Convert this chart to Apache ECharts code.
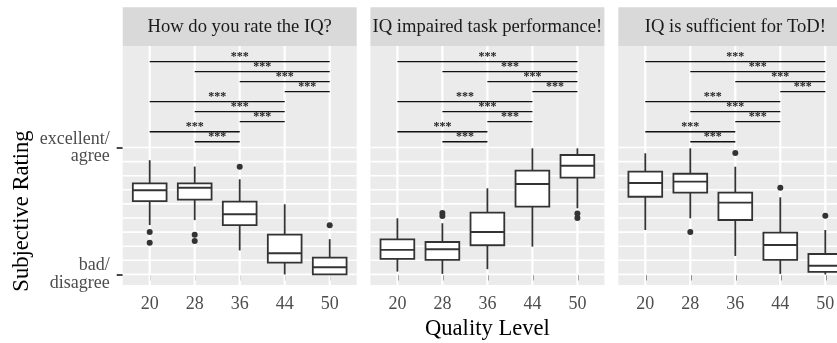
<!DOCTYPE html>
<html>
<head>
<meta charset="utf-8">
<script src="https://cdn.jsdelivr.net/npm/echarts@6/dist/echarts.min.js"></script>
<style>
html, body { margin: 0; padding: 0; background: #fff; }
#chart { width: 837px; height: 343px; }
</style>
</head>
<body>
<div id="chart"></div>
<script>
// facet titles and axis labels
const panelTitles = ['How do you rate the IQ?', 'IQ impaired task performance!', 'IQ is sufficient for ToD!'];
const qualityLevels = ['20', '28', '36', '44', '50'];
const ratingLabels = ['bad/\ndisagree', 'excellent/\nagree'];
const ratingSteps = [0, 1, 2, 3, 4, 5, 6, 7, 8, 9];

// box stats per quality level: [min, q1, median, q3, max]
const rateIQ = [
  [3.5, 5.2, 5.97, 6.46, 8.1],
  [3.85, 5.3, 6.15, 6.46, 7.65],
  [1.7, 3.5, 4.27, 5.16, 6.75],
  [0, 0.84, 1.5, 2.82, 4.97],
  [0, 0, 0.51, 1.19, 2.5]
];
const rateIQOut = [[1, 3.0], [1, 2.25], [2, 2.82], [2, 2.37], [3, 7.64], [5, 3.49]];

const impaired = [
  [0.2, 1.1, 1.74, 2.49, 3.98],
  [0.04, 1.03, 1.79, 2.3, 3.63],
  [0.37, 2.07, 3.01, 4.38, 6.11],
  [1.97, 4.81, 6.41, 7.36, 8.94],
  [4.69, 6.86, 7.71, 8.47, 8.94]
];
const impairedOut = [[2, 4.36], [2, 4.15], [5, 4.32], [5, 4.0]];

const sufficient = [
  [3.15, 5.51, 6.48, 7.29, 8.59],
  [3.98, 5.8, 6.58, 7.14, 8.94],
  [1.31, 3.86, 5.09, 5.8, 7.64],
  [0.04, 1.03, 2.09, 2.96, 5.47],
  [0, 0.18, 0.62, 1.45, 3.15]
];
const sufficientOut = [[2, 3.01], [3, 8.61], [4, 6.15], [5, 4.17]];

// significance brackets [from level, to level, height], same in every panel
const brackets = [[2, 3, 9.41], [1, 3, 10.12], [3, 4, 10.83], [2, 4, 11.54], [1, 4, 12.25],
                  [4, 5, 12.96], [3, 5, 13.67], [2, 5, 14.38], [1, 5, 15.09]];
const sigLabel = '***';

const panels = [rateIQ, impaired, sufficient];
const outliers = [rateIQOut, impairedOut, sufficientOut];

const font = 'Liberation Serif';
const lefts = [122.7, 370.4, 618.3];
const panelTop = 46, panelW = 234, panelH = 239;

const grid = lefts.map(l => ({
  left: l, top: panelTop, width: panelW, height: panelH,
  show: true, backgroundColor: '#EBEBEB', borderWidth: 0,
  outerBoundsMode: 'none'
}));

const xAxis = lefts.map((l, i) => ({
  type: 'value', gridIndex: i, min: 0.4, max: 5.6,
  axisLine: { show: false },
  splitLine: { show: false },
  axisTick: { show: true, length: 6, customValues: [1, 2, 3, 4, 5], lineStyle: { color: '#333', width: 1.8 } },
  axisLabel: {
    customValues: [1, 2, 3, 4, 5],
    formatter: v => qualityLevels[Math.round(v) - 1],
    color: '#4D4D4D', fontFamily: font, fontSize: 18, margin: 10
  },
  name: i === 1 ? 'Quality Level' : '',
  nameLocation: 'middle', nameGap: 29,
  nameTextStyle: { color: '#000', fontFamily: font, fontSize: 22.6 }
}));

const yAxis = lefts.map((l, i) => ({
  type: 'value', gridIndex: i, min: -0.75, max: 16.2,
  axisLine: { show: false },
  splitLine: { show: false },
  axisTick: { show: i === 0, length: 6, customValues: [0, 9], lineStyle: { color: '#333', width: 1.8 } },
  axisLabel: {
    show: i === 0, customValues: [0, 9],
    formatter: v => v < 1 ? ratingLabels[0] : ratingLabels[1],
    color: '#4D4D4D', fontFamily: font, fontSize: 18, lineHeight: 17.5, margin: 13, align: 'right'
  }
}));

const series = [];
panels.forEach((stats, i) => {
  // white panel grid
  const gridData = ratingSteps.map(v => [0, v]).concat(qualityLevels.map((q, k) => [1, k + 1]));
  series.push({
    type: 'custom', xAxisIndex: i, yAxisIndex: i, z: 1, silent: true,
    data: gridData,
    renderItem: (params, api) => {
      const cs = params.coordSys;
      const v = api.value(1);
      if (api.value(0) === 0) {
        const y = api.coord([1, v])[1];
        return { type: 'line', shape: { x1: cs.x, y1: y, x2: cs.x + cs.width, y2: y },
                 style: { stroke: '#fff', lineWidth: 1.6 } };
      }
      const x = api.coord([v, 0])[0];
      return { type: 'line', shape: { x1: x, y1: cs.y, x2: x, y2: cs.y + cs.height },
               style: { stroke: '#fff', lineWidth: 2.2 } };
    }
  });
  // boxes, ggplot style (no whisker caps)
  series.push({
    type: 'custom', xAxisIndex: i, yAxisIndex: i, z: 2, silent: true,
    encode: { x: 0, y: [1, 2, 3, 4, 5] },
    data: stats.map((s, k) => [k + 1].concat(s)),
    renderItem: (params, api) => {
      const lv = api.value(0);
      const p = v => api.coord([lv, v]);
      const half = api.size([0.75, 0])[0] / 2;
      const pMin = p(api.value(1)), pQ1 = p(api.value(2)), pMed = p(api.value(3));
      const pQ3 = p(api.value(4)), pMax = p(api.value(5));
      const cx = pMed[0];
      const st = { stroke: '#333', lineWidth: 1.8, fill: null };
      return {
        type: 'group',
        children: [
          { type: 'line', shape: { x1: cx, y1: pMax[1], x2: cx, y2: pQ3[1] }, style: st },
          { type: 'line', shape: { x1: cx, y1: pQ1[1], x2: cx, y2: pMin[1] }, style: st },
          { type: 'rect', shape: { x: cx - half, y: pQ3[1], width: half * 2, height: pQ1[1] - pQ3[1] },
            style: { fill: '#fff', stroke: '#333', lineWidth: 1.8 } },
          { type: 'line', shape: { x1: cx - half, y1: pMed[1], x2: cx + half, y2: pMed[1] },
            style: { stroke: '#333', lineWidth: 1.9 } }
        ]
      };
    }
  });
  series.push({
    type: 'scatter', xAxisIndex: i, yAxisIndex: i, z: 3, silent: true,
    symbolSize: 6, itemStyle: { color: '#333', opacity: 1 },
    data: outliers[i]
  });
  series.push({
    type: 'custom', xAxisIndex: i, yAxisIndex: i, z: 3, silent: true,
    data: brackets,
    renderItem: (params, api) => {
      const a = api.coord([api.value(0), api.value(2)]);
      const b = api.coord([api.value(1), api.value(2)]);
      return {
        type: 'group',
        children: [
          { type: 'line', shape: { x1: a[0], y1: a[1], x2: b[0], y2: b[1] },
            style: { stroke: '#111', lineWidth: 1.3 } },
          { type: 'text', x: (a[0] + b[0]) / 2, y: a[1] + 1.5,
            style: { text: sigLabel, font: 'bold 12px "Liberation Serif"', fill: '#222',
                     align: 'center', verticalAlign: 'bottom' } }
        ]
      };
    }
  });
});

const graphic = [];
lefts.forEach((l, i) => {
  graphic.push({ type: 'rect', x: l, y: 7.3, shape: { x: 0, y: 0, width: panelW, height: 38.7 },
                 style: { fill: '#D9D9D9' }, silent: true });
  graphic.push({ type: 'text', x: l + panelW / 2, y: 27.5,
                 style: { text: panelTitles[i], font: '18.6px "Liberation Serif"', fill: '#1A1A1A',
                          align: 'center', verticalAlign: 'middle' }, silent: true });
});
graphic.push({ type: 'text', x: 22, y: 211, rotation: Math.PI / 2,
               style: { text: 'Subjective Rating', font: '22.6px "Liberation Serif"', fill: '#000',
                        align: 'center', verticalAlign: 'middle' }, silent: true });

const chart = echarts.init(document.getElementById('chart'), null, { renderer: 'canvas' });
chart.setOption({
  animation: false,
  backgroundColor: '#fff',
  grid: grid,
  xAxis: xAxis,
  yAxis: yAxis,
  series: series,
  graphic: graphic
});
</script>
</body>
</html>
